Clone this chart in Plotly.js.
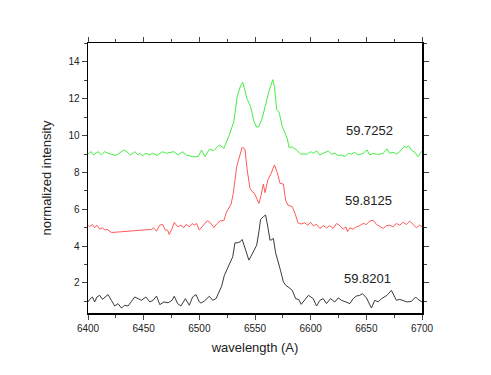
<!DOCTYPE html>
<html>
<head>
<meta charset="utf-8">
<script src="https://cdn.plot.ly/plotly-3.0.1.min.js"></script>
<style>
  body { margin: 0; background: #fff; }
  #plot { width: 491px; height: 375px; }
</style>
</head>
<body>
<div id="plot"></div>
<script>
// spectra, offset vertically (x = wavelength, y = normalized intensity)
const greenX = [6400, 6403, 6405, 6409, 6412, 6415, 6418, 6422, 6425, 6428, 6432, 6434, 6438, 6442, 6445, 6446.5, 6449, 6452, 6455, 6458,
  6462, 6467, 6470, 6477, 6481, 6485, 6488, 6494, 6499, 6502, 6505, 6509, 6513, 6518, 6522, 6527, 6531, 6534, 6537, 6539,
  6541, 6543, 6546, 6549, 6551.5, 6553.5, 6556.5, 6559.5, 6562.5, 6566, 6567.5, 6569.5, 6571.5, 6574.5, 6576.5, 6579, 6580.5, 6583.5, 6586.5, 6591,
  6597, 6600, 6602.3, 6605.3, 6608.3, 6611.3, 6615.7, 6618.7, 6621.7, 6624.7, 6627.7, 6630.7, 6633.7, 6636.7, 6639.6, 6642.6, 6647.1, 6650.7, 6653.1, 6656.1,
  6659.1, 6662.1, 6665.1, 6668.6, 6671, 6674, 6677, 6680, 6683.9, 6686, 6687.8, 6690.5, 6693.4, 6696.4, 6700];
const greenY = [9.0, 9.13, 8.95, 9.13, 8.95, 9.13, 9.04, 8.99, 8.92, 9.04, 9.22, 9.17, 8.95, 9.13, 8.95, 9.04, 8.92, 9.04, 8.95, 9.04,
  8.92, 9.13, 9.04, 9.13, 8.95, 9.13, 8.95, 8.86, 8.86, 9.22, 8.86, 9.26, 9.19, 9.5, 9.31, 10.04, 10.77, 12.13, 12.7, 12.89,
  12.4, 11.98, 11.58, 10.77, 10.46, 10.49, 10.95, 11.67, 12.4, 13.04, 12.67, 11.4, 11.3, 10.5, 10.2, 9.85, 9.37, 9.37, 9.26, 9.0,
  9.0, 9.13, 9.04, 9.17, 8.95, 9.04, 9.17, 8.99, 9.04, 8.92, 8.95, 8.86, 9.04, 8.99, 9.1, 8.95, 9.04, 9.22, 8.95, 9.04,
  8.99, 8.99, 9.04, 9.28, 9.04, 9.1, 8.99, 9.13, 9.41, 9.35, 9.46, 9.22, 9.1, 8.86, 9.17];

const redX = [6400, 6401.5, 6404, 6406, 6408, 6410.5, 6413, 6415, 6417, 6419.5, 6421, 6457, 6459, 6461.5, 6464.5, 6467, 6469.5, 6471.5, 6473, 6475.5,
  6477.5, 6480.5, 6483.5, 6486, 6488, 6491, 6493.5, 6495.5, 6497.5, 6500, 6504, 6507, 6510, 6513, 6516, 6519, 6522, 6524.5, 6528.5, 6530.5,
  6533.5, 6536.5, 6538.5, 6541, 6543, 6545.5, 6547.5, 6549.5, 6552, 6553.5, 6555.5, 6557.5, 6559, 6561.5, 6564.5, 6567.5, 6570, 6572.5, 6575.5, 6577.5,
  6579.5, 6583.5, 6586.5, 6588.5, 6591.5, 6594.5, 6597.5, 6600, 6602.3, 6605.3, 6608.3, 6611.3, 6614.2, 6617.2, 6620.2, 6623.2, 6626.2, 6629.2, 6631.6, 6633.1,
  6635.2, 6638.2, 6641.1, 6644.1, 6647.1, 6650.1, 6653.1, 6656.1, 6659.1, 6662.1, 6665.1, 6668.1, 6671, 6674, 6677, 6680, 6683, 6686, 6689, 6692,
  6695, 6698, 6700];
const redY = [5.14, 5.05, 5.18, 5.0, 5.14, 4.92, 5.0, 4.87, 4.91, 4.78, 4.74, 4.91, 5.0, 4.81, 5.14, 5.18, 4.87, 4.87, 4.63, 4.96,
  5.29, 5.05, 5.14, 5.0, 5.18, 5.05, 5.23, 5.14, 5.23, 4.87, 5.14, 5.38, 5.27, 5.01, 5.23, 5.38, 5.38, 5.87, 6.28, 6.86,
  8.31, 8.95, 9.37, 9.26, 8.13, 7.14, 6.96, 6.87, 6.5, 6.32, 6.77, 7.37, 6.9, 7.59, 7.95, 8.41, 7.99, 7.41, 7.37, 6.5,
  6.23, 6.14, 5.69, 5.27, 5.2, 5.27, 5.14, 5.3, 5.11, 5.18, 4.96, 5.11, 5.0, 5.11, 4.96, 5.23, 5.11, 4.92, 5.05, 4.78,
  5.0, 4.92, 5.05, 5.11, 5.23, 5.18, 5.36, 5.41, 5.18, 5.05, 4.96, 5.11, 5.14, 5.05, 5.23, 5.14, 5.29, 5.18, 5.36, 5.18,
  5.0, 5.14, 5.05];

const blackX = [6400, 6401.5, 6404, 6406, 6408, 6410.5, 6413, 6416, 6418, 6421, 6424, 6427, 6430, 6433, 6436, 6439, 6442, 6445, 6448, 6452,
  6455.5, 6458.5, 6461.5, 6464.5, 6468, 6472, 6475.5, 6477.5, 6480.5, 6483.5, 6487.5, 6491, 6494, 6497, 6500, 6501.5, 6504.5, 6509, 6512, 6515,
  6518, 6520, 6522.5, 6524.5, 6527, 6530, 6532, 6534, 6536.5, 6538.5, 6541, 6543, 6544.5, 6546.5, 6549, 6551.5, 6553.5, 6555, 6557.5, 6559.5,
  6561.5, 6563.5, 6564.5, 6566.5, 6568.5, 6570.5, 6573, 6575.5, 6577.5, 6580.5, 6583.5, 6586.5, 6589.5, 6591.5, 6595, 6598, 6602.3, 6605.3, 6608.3, 6611.3,
  6614.2, 6617.8, 6621.7, 6624.7, 6627.7, 6631.6, 6635.2, 6638.2, 6641.1, 6644.1, 6646.5, 6650.1, 6654.6, 6657.6, 6660.6, 6663.6, 6665.6, 6668.6, 6672.5, 6674.6,
  6677, 6680, 6683, 6686.6, 6690.5, 6694.3, 6696.4, 6700];
const blackY = [0.97, 1.11, 1.24, 0.97, 1.24, 1.33, 1.11, 1.24, 1.37, 1.06, 0.75, 0.88, 0.64, 0.79, 0.75, 1.0, 1.24, 1.15, 1.06, 1.24,
  0.97, 1.06, 1.29, 0.82, 0.97, 0.93, 1.06, 1.28, 0.88, 0.75, 1.15, 0.79, 1.24, 1.37, 0.97, 0.91, 1.02, 1.28, 1.06, 1.15,
  1.51, 1.82, 2.42, 2.73, 3.02, 3.42, 4.18, 4.18, 4.23, 4.36, 3.93, 3.51, 3.24, 3.46, 3.78, 4.05, 4.78, 5.45, 5.6, 5.69,
  5.05, 4.33, 4.33, 4.42, 3.64, 3.24, 2.66, 2.06, 1.88, 1.75, 1.6, 1.15, 1.09, 0.84, 1.09, 1.33, 1.15, 0.75, 1.06, 1.15,
  0.88, 1.15, 0.97, 1.19, 1.06, 0.97, 0.88, 1.15, 1.29, 1.33, 1.42, 1.19, 0.64, 1.06, 0.97, 1.15, 1.24, 1.33, 1.6, 1.33,
  1.06, 1.11, 1.06, 0.97, 1.0, 1.24, 1.11, 0.97];

const labels = ['59.7252', '59.8125', '59.8201'];
const labelX = [6653, 6652, 6651];
const labelY = [10.3, 6.5, 2.25];

const font = 'Arial, "Liberation Sans", sans-serif';

const traces = [
  { x: blackX, y: blackY, type: 'scatter', mode: 'lines', line: { color: '#3a3a3a', width: 1 } },
  { x: redX, y: redY, type: 'scatter', mode: 'lines', line: { color: '#ff5a5a', width: 1 } },
  { x: greenX, y: greenY, type: 'scatter', mode: 'lines', line: { color: '#44ee44', width: 1 } }
];

const annotations = labels.map((t, i) => ({
  x: labelX[i], y: labelY[i], text: t, showarrow: false,
  font: { family: font, size: 13, color: '#222' }
}));

const layout = {
  width: 491,
  height: 375,
  margin: { l: 88, r: 69, t: 43, b: 62 },
  paper_bgcolor: '#fff',
  plot_bgcolor: '#fff',
  showlegend: false,
  font: { family: font, color: '#222' },
  xaxis: {
    range: [6400, 6700],
    dtick: 50,
    tick0: 6400,
    ticks: 'outside',
    ticklen: 5,
    tickwidth: 1,
    minor: { dtick: 25, ticks: 'outside', ticklen: 3 },
    showgrid: false,
    zeroline: false,
    showline: true,
    linecolor: '#000',
    linewidth: 1.5,
    mirror: 'ticks',
    tickfont: { size: 10 },
    title: { text: 'wavelength (A)', font: { size: 13 }, standoff: 10 }
  },
  yaxis: {
    range: [0.37, 15.03],
    dtick: 2,
    tick0: 0,
    ticks: 'outside',
    ticklen: 5,
    tickwidth: 1,
    minor: { dtick: 1, ticks: 'outside', ticklen: 3 },
    showgrid: false,
    zeroline: false,
    showline: true,
    linecolor: '#000',
    linewidth: 1.5,
    mirror: 'ticks',
    tickfont: { size: 10 },
    title: { text: 'normalized intensity', font: { size: 13 }, standoff: 14 }
  },
  annotations: annotations
};

Plotly.newPlot('plot', traces, layout, { staticPlot: true });
</script>
</body>
</html>
